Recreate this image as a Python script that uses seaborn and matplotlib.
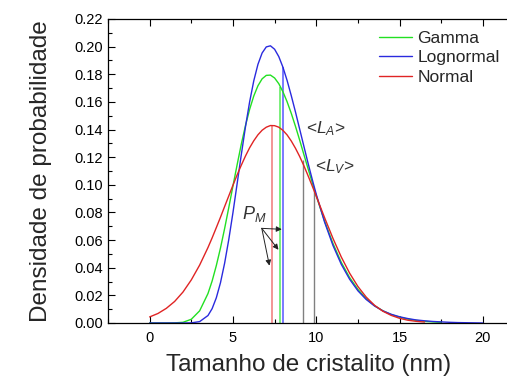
import numpy as np
import pandas as pd
import matplotlib
matplotlib.use("Agg")
import matplotlib.pyplot as plt
from matplotlib.ticker import MultipleLocator
import seaborn as sns

# ---- data ----
nan = np.nan
size_nm = [0, 0.5, 1, 1.5, 2, 2.5, 3,
           3.5, 3.75, 4, 4.25, 4.5, 4.75, 5, 5.25, 5.5, 5.75, 6, 6.25, 6.5, 6.75,
           7, 7.25, 7.5, 7.75, 8, 8.25, 8.5, 8.75, 9, 9.25, 9.5, 9.75, 10,
           10.5, 11, 11.5, 12, 12.5, 13, 13.5, 14, 14.5, 15, 15.5, 16, 16.5,
           17, 17.5, 18, 18.5, 19, 19.5, 20]
gamma_y = [0, 0, 0, 0.0001, 0.0005, 0.0027, 0.0088,
           0.0213, 0.0304, 0.0415, 0.0542, 0.0684, 0.0836, 0.0992, 0.1145,
           0.1294, 0.1428, 0.1546, 0.1643, 0.1717, 0.1767,
           0.1792, 0.1794, 0.1773, 0.1732, 0.1673, 0.1601, 0.1517, 0.1424,
           0.1325, 0.1222, 0.1120, 0.1020, 0.0920,
           0.0737, 0.0576, 0.0439, 0.0329, 0.0243, 0.0175, 0.0125, 0.0088,
           0.0061, 0.0042, 0.0028, 0.0019, 0.0012,
           0.0008, 0.0005, nan, nan, nan, nan, nan]
lognormal_y = [0, 0, 0, 0, 0, 0.0001, 0.0010,
               0.0054, 0.0104, 0.0182, 0.0291, 0.0433, 0.0605, 0.0799, 0.1008,
               0.1218, 0.1419, 0.1600, 0.1753, 0.1872, 0.1954,
               0.1998, 0.2006, 0.1981, 0.1928, 0.1851, 0.1755, 0.1645, 0.1528,
               0.1405, 0.1282, 0.1160, 0.1043, 0.0931,
               0.0730, 0.0562, 0.0425, 0.0317, 0.0233, 0.0170, 0.0123, 0.0088,
               0.0063, 0.0045, 0.0032, 0.0022, 0.0016,
               0.0011, 0.0008, 0.0005, 0.0003, 0.0002, 0.0001, 0.0]
normal_y = [0.0044, 0.0069, 0.0106, 0.0156, 0.0224, 0.0312, 0.0419,
            0.0546, 0.0616, 0.0690, 0.0765, 0.0843, 0.0920, 0.0997, 0.1072,
            0.1142, 0.1208, 0.1268, 0.1319, 0.1362, 0.1395,
            0.1417, 0.1429, 0.1428, 0.1417, 0.1394, 0.1361, 0.1317, 0.1265,
            0.1206, 0.1140, 0.1068, 0.0994, 0.0917,
            0.0762, 0.0613, 0.0478, 0.0361, 0.0264, 0.0187, 0.0128, 0.0085,
            0.0055, 0.0034, 0.0020, 0.0012, 0.0007,
            nan, nan, nan, nan, nan, nan, nan]

series_names = ["Gamma", "Lognormal", "Normal"]
series_colors = ["#22e022", "#2a2ade", "#e02424"]

# vertical marker lines: P_M (normal), means (gamma, lognormal), <L_A>, <L_V>
marker_x = [7.37, 7.83, 7.99, 9.20, 9.88]
marker_top = [0.143, 0.171, 0.1855, 0.118, 0.096]
marker_colors = ["#f28c8c", "#70ee70", "#7070ff", "#808080", "#808080"]

xticks = [0, 5, 10, 15, 20]
yticks = [0.00, 0.02, 0.04, 0.06, 0.08, 0.10, 0.12, 0.14, 0.16, 0.18, 0.20, 0.22]

# ---- build table ----
frames = []
for name, ys in zip(series_names, [gamma_y, lognormal_y, normal_y]):
    frames.append(pd.DataFrame({"x": size_nm, "y": ys, "dist": name}))
df = pd.concat(frames).dropna()

sns.set_style("ticks")
plt.rcParams["font.family"] = ["Liberation Sans", "DejaVu Sans"]
plt.rcParams["mathtext.fontset"] = "custom"
plt.rcParams["mathtext.it"] = "Liberation Sans:italic"
plt.rcParams["mathtext.rm"] = "Liberation Sans"

fig = plt.figure(figsize=(5.07, 3.82), dpi=100)
ax = fig.add_axes([108 / 507, 1 - 323 / 382, 1.005 - 108 / 507, (323 - 19) / 382])

sns.lineplot(data=df, x="x", y="y", hue="dist", hue_order=series_names,
             palette=dict(zip(series_names, series_colors)),
             estimator=None, sort=False, linewidth=1.0, ax=ax)

for xv, top, c in zip(marker_x, marker_top, marker_colors):
    ax.vlines(xv, 0, top, colors=c, linewidth=1.3 if c != "#808080" else 1.0, zorder=1)

# annotations
ax.text(9.4, 0.141, r"<$L_A$>", fontsize=12.5, color="#333333", ha="left", va="center")
ax.text(9.95, 0.1135, r"<$L_V$>", fontsize=12.5, color="#333333", ha="left", va="center")
ax.text(5.55, 0.079, r"$P_M$", fontsize=13, color="#333333", ha="left", va="center")
origin = (6.73, 0.0685)
for tgt in [(7.93, 0.0678), (7.73, 0.053), (7.19, 0.0415)]:
    ax.annotate("", xy=tgt, xytext=origin,
                arrowprops=dict(arrowstyle="-|>", color="#222222", lw=0.7,
                                mutation_scale=8, shrinkA=0, shrinkB=0))

ax.set_xlim(-2.5, 21.6)
ax.set_ylim(0, 0.22)
ax.set_xticks(xticks)
ax.set_yticks(yticks)
ax.set_yticklabels([f"{v:.2f}" for v in yticks])
ax.xaxis.set_minor_locator(MultipleLocator(2.5))
ax.yaxis.set_minor_locator(MultipleLocator(0.01))
ax.tick_params(which="both", direction="in", top=True, right=False,
               labelsize=10.5, width=0.8, colors="black")
ax.tick_params(which="major", length=5)
ax.tick_params(which="minor", length=3)
ax.tick_params(axis="x", pad=6)
for s in ["left", "bottom", "top"]:
    ax.spines[s].set_visible(True)
    ax.spines[s].set_linewidth(0.9)
    ax.spines[s].set_color("black")
ax.spines["right"].set_visible(False)

ax.set_xlabel("Tamanho de cristalito (nm)", fontsize=17.5, labelpad=6)
ax.set_ylabel("Densidade de probabilidade", fontsize=17.5, labelpad=16)

leg = ax.legend(frameon=False, loc="upper left",
                bbox_to_anchor=(0.658, 0.985), fontsize=12.5,
                handlelength=1.9, handletextpad=0.3, labelspacing=0.25,
                borderaxespad=0)
for h in leg.get_lines():
    h.set_linewidth(1.0)

fig.savefig("out.png", dpi=100)
